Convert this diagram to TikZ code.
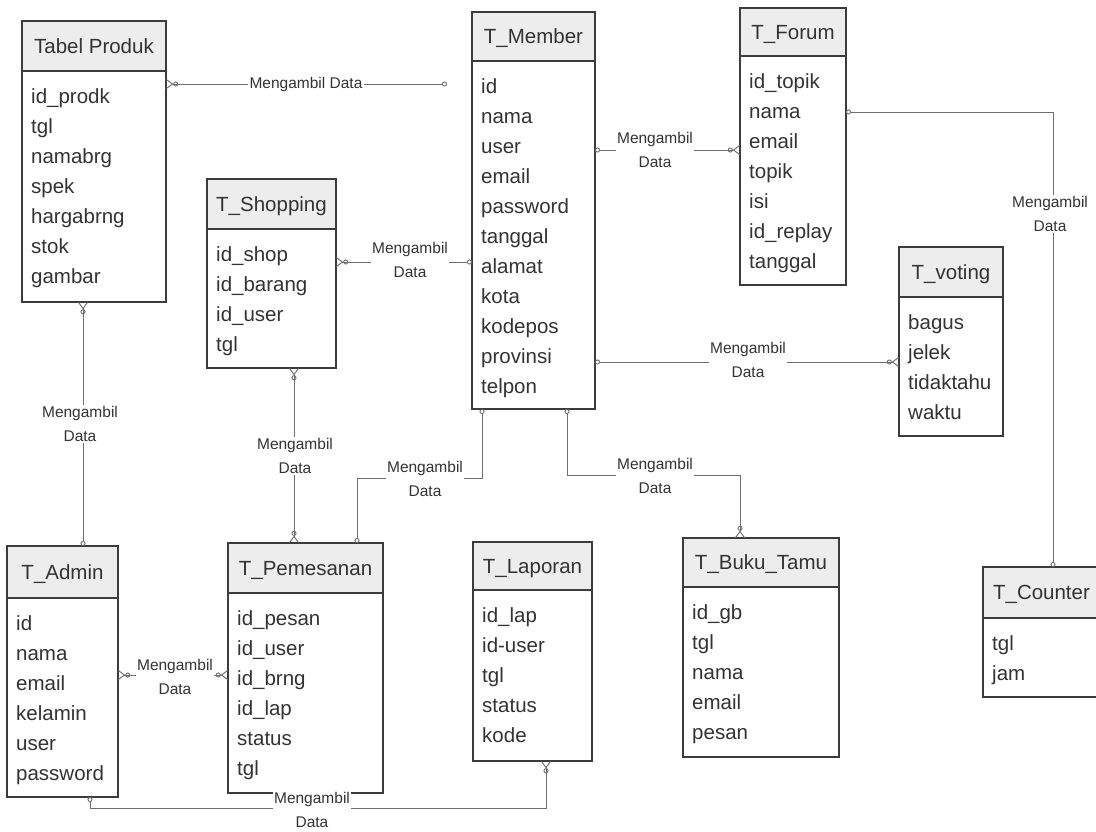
\documentclass[tikz,border=0pt]{standalone}
\usepackage{fontspec}
\setmainfont{Liberation Sans}
\usetikzlibrary{calc,arrows.meta}
\definecolor{ink}{HTML}{333333}
\definecolor{edgec}{HTML}{3C3C3C}
\definecolor{conn}{HTML}{6E6E6E}
\definecolor{hdrfill}{HTML}{EDEDED}
% name, x1, ytop, x2, ydiv, ybot, title, rows
\newcommand\erent[8]{%
  \node[hdr, minimum width={#4-#2}, minimum height={#5-#3}, anchor=north west] (#1H) at (#2,#3) {#7};
  \node[bodybox, minimum width={#4-#2}, minimum height={#6-#5}, anchor=north west] (#1) at (#2,#5) {};
  \node[rows, anchor=north west] (#1R) at (#2+9,#5+17) {#8};
}
\begin{document}
\begin{tikzpicture}[x=1pt,y=-1pt,
  hdr/.style={draw=edgec, line width=1.3pt, fill=hdrfill, inner sep=0pt, outer sep=0pt, text=ink,
    font=\fontsize{20.5}{24}\selectfont, text height=14.7pt, text depth=0pt},
  bodybox/.style={draw=edgec, line width=1.3pt, fill=white, inner sep=0pt, outer sep=0pt},
  rows/.style={inner sep=0pt, align=left, text=ink, font=\fontsize{20.5}{30}\selectfont},
  con/.style={draw=conn, line width=0.9pt},
  lbl/.style={fill=white, inner sep=1.5pt, align=center, text=ink, font=\fontsize{15.5}{24}\selectfont},
  mm/.style={arrows={{Straight Barb[reversed,length=6pt,width=9pt] Circle[open,length=5pt,width=5pt]}-{Circle[open,length=5pt,width=5pt] Straight Barb[reversed,length=6pt,width=9pt]}}},
  mo/.style={arrows={{Straight Barb[reversed,length=6pt,width=9pt] Circle[open,length=5pt,width=5pt]}-{Circle[open,length=5pt,width=5pt]}}},
  om/.style={arrows={{Circle[open,length=5pt,width=5pt]}-{Circle[open,length=5pt,width=5pt] Straight Barb[reversed,length=6pt,width=9pt]}}},
  oo/.style={arrows={{Circle[open,length=5pt,width=5pt]}-{Circle[open,length=5pt,width=5pt]}}}
]
\fill[white] (0,0) rectangle (1096,831);
\useasboundingbox (0,0) rectangle (1096,831);
\clip (0,0) rectangle (1096,831);

\erent{prod}{22}{21}{166}{71}{302}{Tabel Produk}{id\_prodk\\tgl\\namabrg\\spek\\hargabrng\\stok\\gambar}
\erent{shop}{207}{179}{336}{229}{368}{T\_Shopping}{id\_shop\\id\_barang\\id\_user\\tgl}
\erent{mem}{472}{12}{595}{61}{409}{T\_Member}{id\\nama\\user\\email\\password\\tanggal\\alamat\\kota\\kodepos\\provinsi\\telpon}
\erent{forum}{740}{8}{846}{56}{285}{T\_Forum}{id\_topik\\nama\\email\\topik\\isi\\id\_replay\\tanggal}
\erent{vote}{899}{247}{1003}{297}{436}{T\_voting}{bagus\\jelek\\tidaktahu\\waktu}
\erent{admin}{7}{546}{118}{598}{797}{T\_Admin}{id\\nama\\email\\kelamin\\user\\password}
\erent{pesan}{228}{543}{383}{593}{793}{T\_Pemesanan}{id\_pesan\\id\_user\\id\_brng\\id\_lap\\status\\tgl}
\erent{lap}{473}{542}{592}{590}{761}{T\_Laporan}{id\_lap\\id-user\\tgl\\status\\kode}
\erent{buku}{683}{538}{839}{587}{757}{T\_Buku\_Tamu}{id\_gb\\tgl\\nama\\email\\pesan}
\erent{counter}{983}{567}{1100}{618}{697}{T\_Counter}{tgl\\jam}

% connectors
\draw[con,mo,shorten >=25pt] ($(prod.north east)+(0,13)$) -- ($(mem.north west)+(0,23)$);
\draw[con,mo] ($(shop.north east)+(0,33)$) -- ($(mem.north west)+(0,201)$);
\draw[con,om] ($(mem.north east)+(0,89)$) -- ($(forum.north west)+(0,94)$);
\draw[con,oo] ($(forum.north east)+(0,56)$) -| ($(counterH.north west)+(70,0)$);
\draw[con,om] ($(mem.north east)+(0,301)$) -- ($(vote.north west)+(0,65)$);
\draw[con,om] ($(mem.south west)+(95,0)$) -- ++(0,66) -| ($(bukuH.north west)+(57,0)$);
\draw[con,oo] ($(mem.south west)+(10,0)$) -- ++(0,69) -| ($(pesanH.north west)+(129,0)$);
\draw[con,mm] ($(shop.south west)+(87,0)$) -- ($(pesanH.north west)+(66,0)$);
\draw[con,mo] ($(prod.south west)+(61,0)$) -- ($(adminH.north west)+(76,0)$);
\draw[con,mm] ($(admin.north east)+(0,77)$) -- ($(pesan.north west)+(0,82)$);
\draw[con,om] ($(admin.south west)+(83,0)$) -- ++(0,11) -| ($(lap.south west)+(73,0)$);

% labels
\node[lbl] (l1) at (306,84) {Mengambil Data};
\node[lbl] (l2) at (410,260) {Mengambil\\Data};
\node[lbl] (l3) at (655,150) {Mengambil\\Data};
\node[lbl] (l4) at (1050,214) {Mengambil\\Data};
\node[lbl] (l5) at (748,360) {Mengambil\\Data};
\node[lbl] (l6) at (655,476) {Mengambil\\Data};
\node[lbl] (l7) at (425,479) {Mengambil\\Data};
\node[lbl] (l8) at (295,456) {Mengambil\\Data};
\node[lbl] (l9) at (80,424) {Mengambil\\Data};
\node[lbl] (l10) at (175,677) {Mengambil\\Data};
\node[lbl] (l11) at (312,810) {Mengambil\\Data};
\end{tikzpicture}
\end{document}
